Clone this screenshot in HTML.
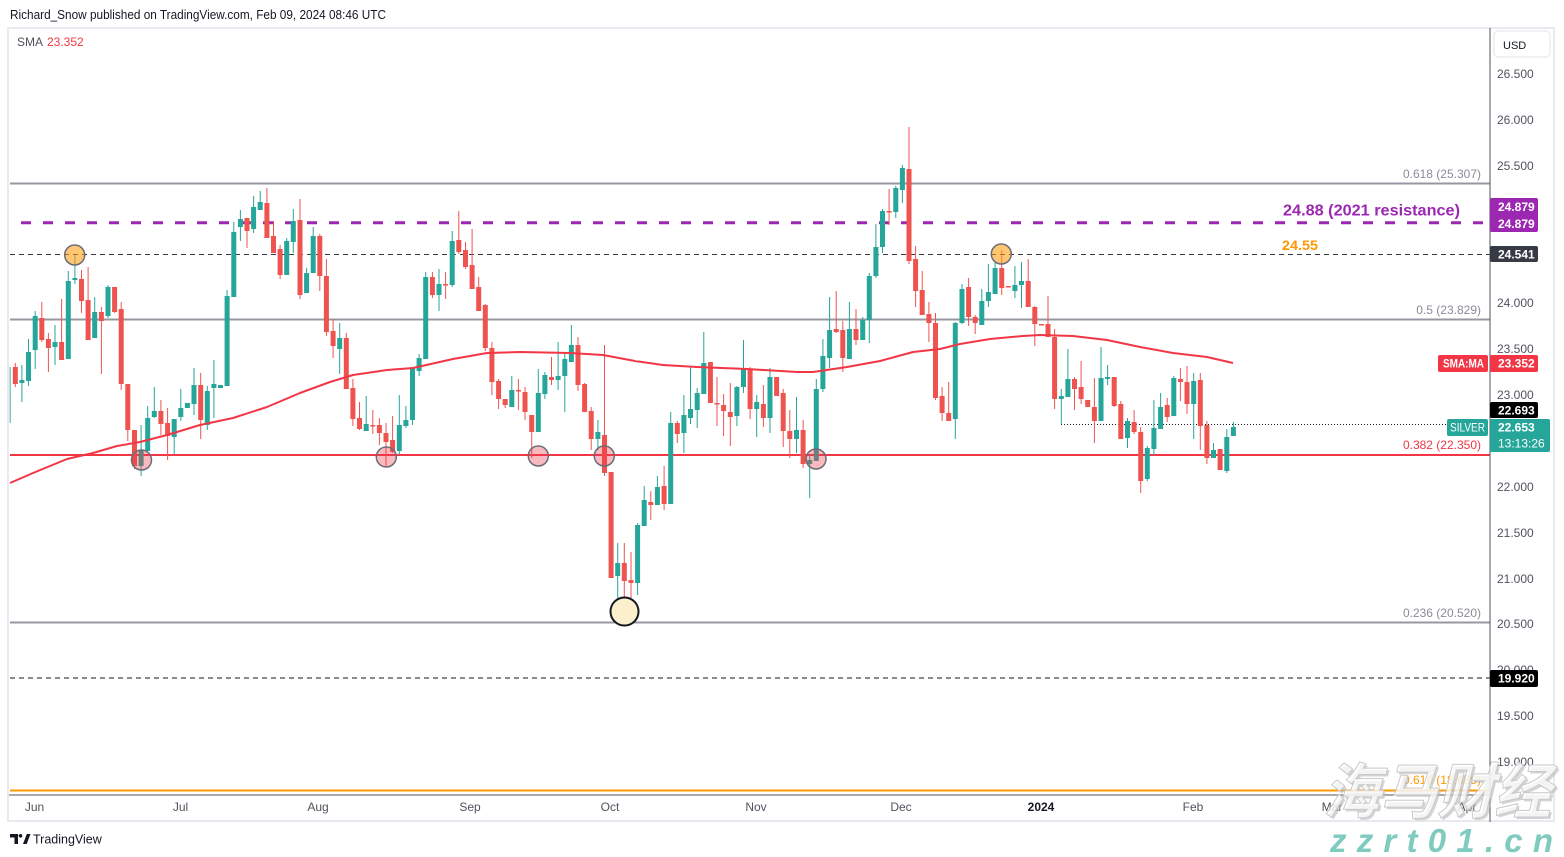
<!DOCTYPE html>
<html><head><meta charset="utf-8"><style>
html,body{margin:0;padding:0;background:#fff;}
svg{display:block;font-family:"Liberation Sans","Noto Sans CJK SC",sans-serif;}
</style></head><body>
<svg width="1564" height="857" viewBox="0 0 1564 857" xmlns="http://www.w3.org/2000/svg">
<rect width="1564" height="857" fill="#fff"/>
<text x="10" y="19" font-size="12.5" fill="#131722" textLength="376" lengthAdjust="spacingAndGlyphs">Richard_Snow published on TradingView.com, Feb 09, 2024 08:46 UTC</text>
<rect x="8" y="28" width="1546" height="793" fill="none" stroke="#e9eaef" stroke-width="2"/>
<text x="17" y="46" font-size="12" fill="#50535e">SMA</text>
<text x="47" y="46" font-size="12" fill="#f23645">23.352</text>

<!-- fib / horizontal lines -->
<g stroke-width="2" fill="none">
<line x1="10" y1="183.5" x2="1490" y2="183.5" stroke="#9598a1"/>
<line x1="10" y1="319.5" x2="1490" y2="319.5" stroke="#9598a1"/>
<line x1="10" y1="455" x2="1490" y2="455" stroke="#f23645"/>
<line x1="10" y1="622.5" x2="1490" y2="622.5" stroke="#9598a1"/>
<line x1="10" y1="790.5" x2="1490" y2="790.5" stroke="#ff9800"/>
</g>
<line x1="21" y1="222.7" x2="1490" y2="222.7" stroke="#9c27b0" stroke-width="3" stroke-dasharray="10 12"/>
<line x1="10" y1="254.5" x2="1490" y2="254.5" stroke="#363a45" stroke-width="1" stroke-dasharray="5 4"/>
<line x1="10" y1="678" x2="1490" y2="678" stroke="#131722" stroke-width="1" stroke-dasharray="5 4"/>
<line x1="1061" y1="424.5" x2="1446" y2="424.5" stroke="#131722" stroke-width="1" stroke-dasharray="1 2"/>

<g font-size="12" text-anchor="end">
<text x="1481" y="178" fill="#8a8d96">0.618 (25.307)</text>
<text x="1481" y="314" fill="#8a8d96">0.5 (23.829)</text>
<text x="1481" y="449" fill="#f23645">0.382 (22.350)</text>
<text x="1481" y="617" fill="#8a8d96">0.236 (20.520)</text>
<text x="1481" y="784" fill="#ff9800">0.618 (18.689)</text>
</g>
<text x="1283" y="215.5" font-size="15.5" font-weight="bold" fill="#9c27b0" textLength="177" lengthAdjust="spacingAndGlyphs">24.88 (2021 resistance)</text>
<text x="1282" y="250" font-size="14" font-weight="bold" fill="#ff9800" textLength="36" lengthAdjust="spacingAndGlyphs">24.55</text>

<!-- candles -->
<rect x="9.5" y="367" width="1.5" height="56" fill="#26a69a" opacity="0.6"/>
<path fill="none" stroke="#26a69a" stroke-width="1" d="M21.9 365V402 M28.5 339V386 M35.2 311V369 M55 325V365 M68.3 271V359 M74.9 255V284 M94.7 297V338 M108 285V318 M141.1 425V476 M147.7 406V451 M154.3 387V418 M174.2 419V454 M180.8 389V421 M187.4 403V408 M194 368V415 M207.3 386V430 M213.9 360V418 M220.5 385V388 M227.1 290V386 M233.8 222V297 M240.4 210V241 M253.6 196V233 M260.2 191V210 M286.7 238V275 M293.3 209V253 M306.6 268V293 M313.2 227V273 M339.7 323V374 M366.2 396V431 M399.3 395V454 M405.9 406V428 M412.5 368V425 M419.1 354V376 M425.7 272V359 M439 269V311 M452.2 231V287 M511.8 376V407 M538.3 369V432 M544.9 372V399 M558.1 342V390 M564.8 353V412 M571.4 325V362 M597.9 420V450 M617.7 543V607 M637.6 523V595 M644.2 486V526 M657.4 476V505 M670.7 412V504 M683.9 395V453 M690.5 367V424 M697.2 388V428 M703.8 332V394 M736.9 386V426 M743.5 340V393 M756.7 395V437 M770 368V433 M796.5 397V453 M809.7 455V498 M816.3 379V461 M822.9 339V392 M829.6 297V368 M849.4 302V359 M862.7 317V340 M869.3 273V343 M875.9 224V278 M882.5 209V253 M895.8 186V218 M902.4 165V203 M955.3 322V439 M962 284V324 M981.8 289V325 M988.4 264V307 M995.1 262V294 M1014.9 266V298 M1021.5 262V308 M1061.3 389V424 M1067.9 349V397 M1101 347V421 M1107.6 365V385 M1127.5 418V448 M1147.3 446V481 M1153.9 400V455 M1160.6 393V429 M1173.8 376V416 M1193.7 373V439 M1213.5 443V458 M1226.8 429V473 M1233.4 422V436"/>
<g fill="#26a69a">
<rect x="19.4" y="380" width="5" height="3"/><rect x="26" y="352" width="5" height="29"/><rect x="32.7" y="316" width="5" height="34"/><rect x="52.5" y="342" width="5" height="5"/><rect x="65.8" y="281" width="5" height="78"/><rect x="72.4" y="278" width="5" height="2"/><rect x="92.2" y="312" width="5" height="26"/><rect x="105.5" y="287" width="5" height="29"/><rect x="138.6" y="450" width="5" height="16"/><rect x="145.2" y="418" width="5" height="33"/><rect x="151.8" y="411" width="5" height="6"/><rect x="171.7" y="419" width="5" height="18"/><rect x="178.3" y="408" width="5" height="9"/><rect x="184.9" y="403" width="5" height="5"/><rect x="191.5" y="385" width="5" height="19"/><rect x="204.8" y="391" width="5" height="34"/><rect x="211.4" y="384" width="5" height="4"/><rect x="218" y="385" width="5" height="3"/><rect x="224.6" y="296" width="5" height="90"/><rect x="231.3" y="232" width="5" height="65"/><rect x="237.9" y="219" width="5" height="8"/><rect x="251.1" y="207" width="5" height="22"/><rect x="257.7" y="202" width="5" height="8"/><rect x="284.2" y="241" width="5" height="34"/><rect x="290.8" y="221" width="5" height="21"/><rect x="304.1" y="273" width="5" height="20"/><rect x="310.7" y="236" width="5" height="37"/><rect x="337.2" y="338" width="5" height="11"/><rect x="363.7" y="424" width="5" height="7"/><rect x="396.8" y="425" width="5" height="26"/><rect x="403.4" y="420" width="5" height="6"/><rect x="410" y="368" width="5" height="52"/><rect x="416.6" y="358" width="5" height="13"/><rect x="423.2" y="277" width="5" height="82"/><rect x="436.5" y="284" width="5" height="11"/><rect x="449.7" y="241" width="5" height="44"/><rect x="509.3" y="390" width="5" height="17"/><rect x="535.8" y="393" width="5" height="39"/><rect x="542.4" y="375" width="5" height="19"/><rect x="555.6" y="376" width="5" height="4"/><rect x="562.3" y="359" width="5" height="17"/><rect x="568.9" y="345" width="5" height="17"/><rect x="595.4" y="432" width="5" height="7"/><rect x="615.2" y="563" width="5" height="13"/><rect x="635.1" y="525" width="5" height="58"/><rect x="641.7" y="500" width="5" height="26"/><rect x="654.9" y="487" width="5" height="18"/><rect x="668.2" y="423" width="5" height="81"/><rect x="681.4" y="415" width="5" height="18"/><rect x="688" y="409" width="5" height="9"/><rect x="694.7" y="393" width="5" height="17"/><rect x="701.3" y="363" width="5" height="31"/><rect x="734.4" y="387" width="5" height="29"/><rect x="741" y="369" width="5" height="18"/><rect x="754.2" y="402" width="5" height="7"/><rect x="767.5" y="377" width="5" height="41"/><rect x="794" y="430" width="5" height="9"/><rect x="807.2" y="460" width="5" height="4"/><rect x="813.8" y="389" width="5" height="72"/><rect x="820.4" y="356" width="5" height="33"/><rect x="827.1" y="330" width="5" height="28"/><rect x="846.9" y="329" width="5" height="30"/><rect x="860.2" y="320" width="5" height="20"/><rect x="866.8" y="276" width="5" height="44"/><rect x="873.4" y="247" width="5" height="29"/><rect x="880" y="211" width="5" height="36"/><rect x="893.3" y="188" width="5" height="24"/><rect x="899.9" y="168" width="5" height="22"/><rect x="952.8" y="323" width="5" height="96"/><rect x="959.5" y="289" width="5" height="34"/><rect x="979.3" y="301" width="5" height="24"/><rect x="985.9" y="292" width="5" height="9"/><rect x="992.6" y="268" width="5" height="26"/><rect x="1012.4" y="285" width="5" height="6"/><rect x="1019" y="281" width="5" height="4"/><rect x="1058.8" y="396" width="5" height="3"/><rect x="1065.4" y="379" width="5" height="18"/><rect x="1098.5" y="378" width="5" height="43"/><rect x="1105.1" y="377" width="5" height="2"/><rect x="1125" y="421" width="5" height="17"/><rect x="1144.8" y="448" width="5" height="31"/><rect x="1151.4" y="428" width="5" height="21"/><rect x="1158.1" y="407" width="5" height="22"/><rect x="1171.3" y="378" width="5" height="38"/><rect x="1191.2" y="381" width="5" height="23"/><rect x="1211" y="450" width="5" height="8"/><rect x="1224.3" y="437" width="5" height="34"/><rect x="1230.9" y="427" width="5" height="9"/>
</g>
<path fill="none" stroke="#ef5350" stroke-width="1" d="M15.3 363V387 M41.8 302V342 M48.4 333V372 M61.6 299V360 M81.5 270V313 M88.1 267V340 M101.4 307V374 M114.6 287V313 M121.2 302V390 M127.8 384V441 M134.5 430V469 M160.9 400V435 M167.6 408V460 M200.7 373V439 M247 218V248 M266.9 188V238 M273.5 221V253 M280.1 245V279 M300 199V299 M319.8 234V291 M326.4 259V336 M333.1 319V358 M346.3 333V389 M352.9 379V426 M359.5 402V430 M372.8 410V434 M379.4 418V445 M386 423V467 M392.6 416V453 M432.4 272V298 M445.6 272V299 M458.8 211V254 M465.5 242V269 M472.1 229V289 M478.7 277V311 M485.3 304V351 M491.9 342V395 M498.6 379V409 M505.2 399V408 M518.4 379V410 M525 387V420 M531.7 415V458 M551.5 357V385 M578 337V391 M584.6 383V412 M591.2 407V450 M604.5 345V476 M611.1 472V578 M624.3 543V607 M631 552V605 M650.8 491V520 M664.1 466V510 M677.3 421V443 M710.4 362V403 M717 377V426 M723.6 394V436 M730.3 383V446 M750.1 367V419 M763.4 385V427 M776.6 377V396 M783.2 389V447 M789.8 410V458 M803.1 420V468 M836.2 291V333 M842.8 321V372 M856 309V345 M889.1 189V225 M909 127V264 M915.6 246V307 M922.2 271V315 M928.9 302V342 M935.5 313V400 M942.1 387V421 M948.7 382V421 M968.6 278V326 M975.2 315V334 M1001.7 250V295 M1028.2 259V307 M1034.8 306V346 M1048 296V337 M1054.6 329V409 M1074.5 377V410 M1081.1 361V404 M1094.4 378V443 M1114.2 377V407 M1120.8 401V439 M1134.1 410V434 M1140.7 427V493 M1167.2 398V422 M1180.4 368V401 M1187 366V414 M1200.3 373V450 M1206.9 421V464"/>
<g fill="#ef5350">
<rect x="12.8" y="367" width="5" height="17"/><rect x="39.3" y="318" width="5" height="22"/><rect x="45.9" y="339" width="5" height="9"/><rect x="59.1" y="342" width="5" height="18"/><rect x="79" y="279" width="5" height="22"/><rect x="85.6" y="300" width="5" height="40"/><rect x="98.9" y="312" width="5" height="9"/><rect x="112.1" y="287" width="5" height="25"/><rect x="118.7" y="309" width="5" height="75"/><rect x="125.3" y="384" width="5" height="46"/><rect x="132" y="430" width="5" height="36"/><rect x="158.4" y="411" width="5" height="13"/><rect x="165.1" y="423" width="5" height="13"/><rect x="198.2" y="385" width="5" height="35"/><rect x="244.5" y="218" width="5" height="13"/><rect x="264.4" y="203" width="5" height="35"/><rect x="271" y="236" width="5" height="17"/><rect x="277.6" y="249" width="5" height="26"/><rect x="297.5" y="220" width="5" height="75"/><rect x="317.3" y="236" width="5" height="40"/><rect x="323.9" y="276" width="5" height="56"/><rect x="330.6" y="331" width="5" height="15"/><rect x="343.8" y="338" width="5" height="51"/><rect x="350.4" y="388" width="5" height="31"/><rect x="357" y="418" width="5" height="11"/><rect x="370.3" y="425" width="5" height="1.5"/><rect x="376.9" y="425" width="5" height="8"/><rect x="383.5" y="433" width="5" height="9"/><rect x="390.1" y="440" width="5" height="12"/><rect x="429.9" y="277" width="5" height="18"/><rect x="443.1" y="284" width="5" height="1.5"/><rect x="456.3" y="240" width="5" height="12"/><rect x="463" y="250" width="5" height="17"/><rect x="469.6" y="265" width="5" height="24"/><rect x="476.2" y="287" width="5" height="24"/><rect x="482.8" y="305" width="5" height="43"/><rect x="489.4" y="348" width="5" height="34"/><rect x="496.1" y="381" width="5" height="18"/><rect x="502.7" y="399" width="5" height="6"/><rect x="515.9" y="390" width="5" height="1.5"/><rect x="522.5" y="392" width="5" height="20"/><rect x="529.2" y="415" width="5" height="17"/><rect x="549" y="377" width="5" height="3"/><rect x="575.5" y="345" width="5" height="40"/><rect x="582.1" y="384" width="5" height="28"/><rect x="588.7" y="411" width="5" height="28"/><rect x="602" y="435" width="5" height="38"/><rect x="608.6" y="472" width="5" height="106"/><rect x="621.8" y="563" width="5" height="18"/><rect x="628.5" y="580" width="5" height="3"/><rect x="648.3" y="502" width="5" height="3"/><rect x="661.6" y="486" width="5" height="18"/><rect x="674.8" y="423" width="5" height="11"/><rect x="707.9" y="362" width="5" height="41"/><rect x="714.5" y="403" width="5" height="1.5"/><rect x="721.1" y="405" width="5" height="6"/><rect x="727.8" y="412" width="5" height="5"/><rect x="747.6" y="369" width="5" height="40"/><rect x="760.9" y="404" width="5" height="14"/><rect x="774.1" y="377" width="5" height="19"/><rect x="780.7" y="393" width="5" height="38"/><rect x="787.3" y="431" width="5" height="8"/><rect x="800.6" y="430" width="5" height="34"/><rect x="833.7" y="329" width="5" height="3"/><rect x="840.3" y="330" width="5" height="28"/><rect x="853.5" y="329" width="5" height="11"/><rect x="886.6" y="211" width="5" height="1.5"/><rect x="906.5" y="169" width="5" height="92"/><rect x="913.1" y="259" width="5" height="32"/><rect x="919.7" y="290" width="5" height="25"/><rect x="926.4" y="314" width="5" height="9"/><rect x="933" y="323" width="5" height="75"/><rect x="939.6" y="396" width="5" height="17"/><rect x="946.2" y="413" width="5" height="8"/><rect x="966.1" y="287" width="5" height="30"/><rect x="972.7" y="317" width="5" height="6"/><rect x="999.2" y="268" width="5" height="20"/><rect x="1005.8" y="286" width="5" height="1.5"/><rect x="1025.7" y="281" width="5" height="26"/><rect x="1032.3" y="307" width="5" height="17"/><rect x="1038.9" y="324" width="5" height="1.5"/><rect x="1045.5" y="324" width="5" height="13"/><rect x="1052.1" y="337" width="5" height="62"/><rect x="1072" y="379" width="5" height="10"/><rect x="1078.6" y="387" width="5" height="12"/><rect x="1085.2" y="400" width="5" height="7"/><rect x="1091.9" y="407" width="5" height="14"/><rect x="1111.7" y="377" width="5" height="29"/><rect x="1118.3" y="404" width="5" height="35"/><rect x="1131.6" y="422" width="5" height="10"/><rect x="1138.2" y="432" width="5" height="49"/><rect x="1164.7" y="405" width="5" height="12"/><rect x="1177.9" y="379" width="5" height="3"/><rect x="1184.5" y="382" width="5" height="22"/><rect x="1197.8" y="380" width="5" height="46"/><rect x="1204.4" y="425" width="5" height="33"/><rect x="1217.6" y="449" width="5" height="21"/>
</g>

<!-- SMA -->
<polyline fill="none" stroke="#f23645" stroke-width="2" stroke-linejoin="round" points="10,483 33,473 67,459 93,453 117,446 140,442 167,435 200,425 233,418 267,407 300,393 330,382 353,375 387,370 413,368 453,359 487,353 520,352 570,353 603,355 635,361 663,365 697,367 747,369 797,372 813,372 847,367 880,361 913,352 940,349 960,344 990,339 1023,336 1040,335 1073,336 1107,340 1140,347 1173,353 1207,357 1233,363"/>

<!-- circles -->
<g stroke="#6a6d78" stroke-width="1.5">
<circle cx="74.7" cy="255" r="10" fill="#ff9800" fill-opacity="0.55"/>
<circle cx="1001.3" cy="254" r="10" fill="#ff9800" fill-opacity="0.55"/>
<circle cx="141.5" cy="460" r="10" fill="#f23645" fill-opacity="0.35"/>
<circle cx="386.3" cy="457" r="10" fill="#f23645" fill-opacity="0.35"/>
<circle cx="538.3" cy="456" r="10" fill="#f23645" fill-opacity="0.35"/>
<circle cx="604.3" cy="456" r="10" fill="#f23645" fill-opacity="0.35"/>
<circle cx="816" cy="459" r="10" fill="#f23645" fill-opacity="0.35"/>
</g>
<circle cx="624.5" cy="611.5" r="14" fill="#fcefcb" stroke="#131722" stroke-width="2"/>

<!-- axes -->
<line x1="1490" y1="28" x2="1490" y2="822" stroke="#50535e" stroke-width="1"/>
<line x1="9" y1="795" x2="1490" y2="795" stroke="#50535e" stroke-width="1"/>
<rect x="1494" y="31" width="56" height="26" rx="4" fill="#fff" stroke="#e0e3eb"/>
<text x="1503" y="49" font-size="11" fill="#131722">USD</text>
<g font-size="12" fill="#50535e">
<text x="1497" y="78">26.500</text>
<text x="1497" y="124">26.000</text>
<text x="1497" y="170">25.500</text>
<text x="1497" y="307">24.000</text>
<text x="1497" y="353">23.500</text>
<text x="1497" y="399">23.000</text>
<text x="1497" y="491">22.000</text>
<text x="1497" y="537">21.500</text>
<text x="1497" y="583">21.000</text>
<text x="1497" y="628">20.500</text>
<text x="1497" y="674">20.000</text>
<text x="1497" y="720">19.500</text>
<text x="1497" y="766">19.000</text>
</g>
<rect x="1490" y="198" width="48" height="34" rx="2" fill="#9c27b0"/>
<rect x="1490" y="246" width="48" height="16" rx="2" fill="#363a45"/>
<rect x="1438" y="355" width="50" height="17" rx="2" fill="#f23645"/>
<rect x="1490" y="355" width="48" height="17" rx="2" fill="#f23645"/>
<rect x="1490" y="402" width="48" height="16" rx="2" fill="#000"/>
<rect x="1447" y="419" width="41" height="17" rx="2" fill="#26a69a"/>
<rect x="1490" y="419" width="60" height="33" rx="2" fill="#26a69a"/>
<rect x="1490" y="670" width="48" height="17" rx="2" fill="#000"/>
<g font-size="12" font-weight="bold" fill="#fff">
<text x="1498" y="211">24.879</text>
<text x="1498" y="228">24.879</text>
<text x="1498" y="258.5">24.541</text>
<text x="1443" y="367.5" textLength="41" lengthAdjust="spacingAndGlyphs">SMA:MA</text>
<text x="1498" y="367.5">23.352</text>
<text x="1498" y="414.5">22.693</text>
<text x="1450" y="431.5" font-weight="normal" textLength="35" lengthAdjust="spacingAndGlyphs">SILVER</text>
<text x="1498" y="431.5">22.653</text>
<text x="1498" y="447.5" font-weight="normal">13:13:26</text>
<text x="1498" y="682.5">19.920</text>
</g>
<g font-size="12" fill="#50535e" text-anchor="middle">
<text x="34.5" y="811">Jun</text>
<text x="180.5" y="811">Jul</text>
<text x="318" y="811">Aug</text>
<text x="470" y="811">Sep</text>
<text x="610" y="811">Oct</text>
<text x="756" y="811">Nov</text>
<text x="901" y="811">Dec</text>
<text x="1041" y="811" fill="#131722" font-weight="bold">2024</text>
<text x="1193" y="811">Feb</text>
<text x="1332" y="811">Mar</text>
<text x="1467" y="811">Apr</text>
</g>

<!-- TradingView logo -->
<path d="M10 834h8v10h-3.5v-6.5H10z" fill="#131722"/>
<circle cx="20.5" cy="835.8" r="1.8" fill="#131722"/>
<path d="M23 844l3.8-10H30.5l-3.8 10z" fill="#131722"/>
<text x="33" y="843.5" font-size="12.5" fill="#131722">TradingView</text>

<!-- watermark -->
<text x="1325" y="815" font-size="60" font-weight="bold" font-style="italic" fill="#b8b8b8" textLength="228" lengthAdjust="spacingAndGlyphs" font-family="'Noto Sans CJK SC',sans-serif" opacity="0.6">海马财经</text>
<text x="1323" y="813" font-size="60" font-weight="bold" font-style="italic" fill="#fff" fill-opacity="0.75" stroke="#c9c9c9" stroke-width="1" textLength="228" lengthAdjust="spacingAndGlyphs" font-family="'Noto Sans CJK SC',sans-serif">海马财经</text>
<text x="1330" y="852" font-size="33" font-weight="bold" font-style="italic" fill="#7fcbbf" textLength="223" lengthAdjust="spacing">zzrt01.cn</text>
</svg>
</body></html>
